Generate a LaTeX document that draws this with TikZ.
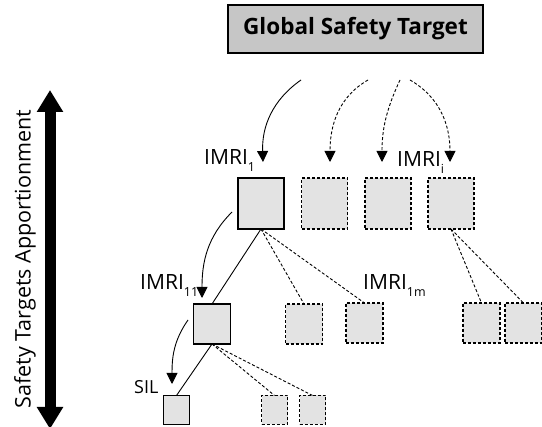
\documentclass[tikz,border=0pt]{standalone}
\usepackage{fontspec}
\setmainfont{Open Sans}
\usetikzlibrary{arrows.meta}
\newcommand{\subx}[1]{\raisebox{-7pt}{\fontsize{12.5}{12.5}\selectfont #1}}
\tikzset{
  box/.style={draw=black, line width=1.1pt, fill=gray!22, minimum width=46pt, minimum height=51pt, inner sep=0pt, outer sep=0pt},
  dbox/.style={box, dashed, dash pattern=on 3pt off 2pt},
  mbox/.style={minimum width=37pt, minimum height=40pt},
  sbox/.style={minimum width=26pt, minimum height=29pt},
  conn/.style={line width=0.9pt},
  dconn/.style={line width=0.9pt, dash pattern=on 3pt off 2pt},
  tip/.style={-{Triangle[width=11pt,length=11pt]}},
  lbl/.style={font=\fontsize{21}{21}\selectfont, inner sep=0pt, anchor=base west},
}
\begin{document}
\begin{tikzpicture}[x=1pt,y=-1pt]
\useasboundingbox (0,0) rectangle (542,427);
% top box
\node[draw=black, line width=1.1pt, fill=gray!45, minimum width=255pt, minimum height=48pt, inner sep=0pt,
  font=\fontsize{22.5}{22.5}\bfseries\selectfont] (gst) at (355.5,29) {Global Safety Target};
% level 1
\node[box] (b1) at (261,203.5) {};
\node[dbox] (b2) at (324.5,203.5) {};
\node[dbox] (b3) at (388,203.5) {};
\node[dbox] (b4) at (451,203.5) {};
% level 2
\node[box, mbox] (c11) at (212,324) {};
\node[dbox, mbox] (c12) at (304,324) {};
\node[dbox, mbox] (c13) at (364.5,323) {};
\node[dbox, mbox] (c21) at (481.5,323) {};
\node[dbox, mbox] (c22) at (523.5,323) {};
% level 3
\node[box, sbox, line width=0.9pt] (d1) at (176.5,410) {};
\node[dbox, sbox, line width=0.9pt] (d2) at (274.5,410) {};
\node[dbox, sbox, line width=0.9pt] (d3) at (312.5,410) {};
% top arrows
\coordinate (s1) at (301,80);
\coordinate (s2) at (368,80);
\coordinate (s3) at (400,80);
\coordinate (s4) at (410,80);
\coordinate (t1) at (263,162);
\coordinate (t2) at (330,162);
\coordinate (t3) at (382,162);
\coordinate (t4) at (450,162);
\draw[conn, tip] (s1) to[out=215, in=92] (t1);
\draw[dconn, tip] (s2) to[out=210, in=90] (t2);
\draw[dconn, tip] (s3) to[out=245, in=90] (t3);
\draw[dconn, tip] (s4) to[out=-30, in=90] (t4);
% left curved arrows
\coordinate (l1s) at (232,212);
\coordinate (l1t) at (202,298);
\coordinate (l2s) at (188,320);
\coordinate (l2t) at (172,384);
\draw[conn, tip] (l1s) to[out=225, in=90] (l1t);
\draw[conn, tip] (l2s) to[out=235, in=90] (l2t);
% tree lines
\draw[conn] (b1.south) -- (c11.north);
\draw[dconn] (b1.south) -- (c12.north);
\draw[dconn] (b1.south) -- (c13.north);
\draw[dconn] (b4.south) -- (c21.north);
\draw[dconn] (b4.south) -- (c22.north);
\draw[conn] (c11.south) -- (d1.north);
\draw[dconn] (c11.south) -- (d2.north);
\draw[dconn] (c11.south) -- (d3.north);
% labels
\node[lbl] (lb1) at (204,165) {IMRI\subx{1}};
\node[lbl] (lbi) at (397,167) {IMRI\subx{i}};
\node[lbl] (lb11) at (140,290) {IMRI\subx{11}};
\node[lbl] (lb1m) at (363,290) {IMRI\subx{1m}};
\node[lbl, font=\fontsize{18}{18}\selectfont] (lsil) at (134,394) {SIL};
% big double arrow
\coordinate (ua) at (50,90);
\coordinate (da) at (50,429);
\draw[line width=11pt, {Triangle[width=25pt,length=22pt]}-{Triangle[width=25pt,length=22pt]}] (ua) -- (da);
\node[rotate=90, font=\fontsize{21.5}{21.5}\selectfont, inner sep=0pt] (apl) at (25,259) {Safety Targets Apportionment};
\end{tikzpicture}
\end{document}
